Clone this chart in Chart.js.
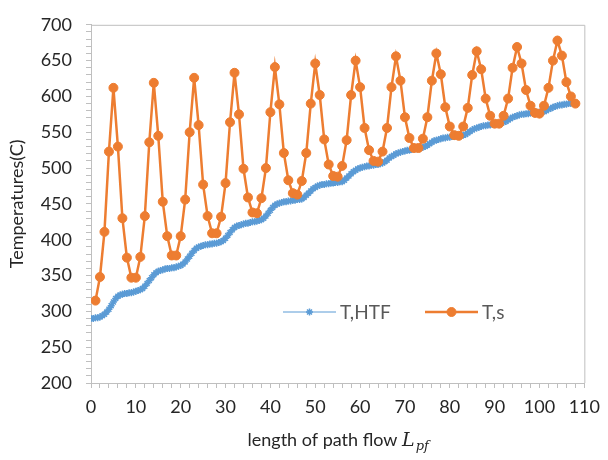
<!DOCTYPE html>
<html>
<head>
<meta charset="utf-8">
<script src="https://cdn.jsdelivr.net/npm/chart.js@4.4.1/dist/chart.umd.min.js"></script>
<style>
  html, body { margin: 0; padding: 0; background: #fff; }
</style>
</head>
<body>
<canvas id="chart" width="608" height="460"></canvas>
<script>
// T,s : solid temperature, one reading per unit of path length (1..108)
const tsTemp = [
  315, 348, 411, 523, 612, 530, 430, 375, 347, 347,
  376, 433, 536, 619, 545, 453, 405, 378, 378, 405,
  456, 550, 626, 560, 477, 433, 409, 409, 432, 479,
  564, 633, 575, 499, 459, 438, 437, 458, 500, 578,
  641, 589, 521, 483, 465, 463, 482, 521, 590, 646,
  602, 540, 505, 489, 488, 503, 539, 602, 650, 613,
  556, 525, 510, 509, 523, 556, 613, 656, 622, 571,
  542, 528, 528, 541, 571, 622, 660, 631, 585, 558,
  546, 545, 558, 584, 630, 663, 638, 597, 573, 562,
  562, 573, 597, 640, 669, 646, 609, 587, 577, 576,
  587, 612, 650, 678, 657, 620, 600, 590
];
const tsLength = tsTemp.map((_, i) => i + 1);

// T,HTF : heat transfer fluid temperature, read every half unit (0..108)
const htfTemp = [
  290, 290, 291, 291, 292, 294, 296, 299, 303, 308,
  313, 318, 321, 323, 324, 325, 325, 326, 326, 327,
  328, 329, 330, 332, 335, 339, 343, 347, 351, 354,
  356, 357, 358, 359, 360, 360, 361, 361, 362, 363,
  364, 366, 369, 373, 377, 381, 385, 388, 390, 391,
  392, 393, 393, 394, 394, 395, 395, 396, 397, 399,
  402, 406, 410, 414, 417, 419, 420, 421, 422, 423,
  423, 424, 425, 425, 426, 427, 428, 430, 433, 437,
  441, 445, 448, 450, 451, 452, 453, 453, 454, 454,
  455, 455, 456, 456, 457, 459, 462, 465, 468, 471,
  473, 475, 476, 477, 477, 478, 478, 479, 479, 480,
  480, 481, 481, 483, 486, 489, 492, 495, 497, 499,
  500, 501, 502, 503, 503, 504, 504, 505, 505, 506,
  507, 509, 511, 514, 516, 518, 520, 521, 522, 523,
  524, 525, 525, 526, 527, 527, 528, 528, 529, 530,
  532, 534, 536, 538, 539, 540, 541, 542, 542, 543,
  543, 544, 544, 545, 545, 546, 546, 547, 549, 551,
  553, 555, 556, 557, 558, 559, 559, 560, 560, 561,
  561, 562, 562, 563, 564, 565, 567, 569, 571, 572,
  573, 574, 575, 575, 576, 576, 577, 577, 578, 578,
  578, 579, 579, 580, 582, 583, 585, 586, 587, 588,
  588, 589, 589, 590, 590, 591, 591
];
const htfLength = htfTemp.map((_, i) => i * 0.5);

const seriesNames = ['T,HTF', 'T,s'];
const blue = '#5B9BD5';
const orange = '#ED7D31';
const axisGray = '#BFBFBF';
const textColor = '#262626';
const fontFamily = 'Lato, "Open Sans", sans-serif';

// grey frame on the top and right of the plot
const framePlugin = {
  id: 'frame',
  afterDraw(chart) {
    const { ctx, chartArea: a } = chart;
    ctx.save();
    ctx.strokeStyle = axisGray;
    ctx.lineWidth = 1;
    ctx.beginPath();
    ctx.moveTo(a.left, a.top + 0.5);
    ctx.lineTo(a.right + 0.5, a.top + 0.5);
    ctx.lineTo(a.right + 0.5, a.bottom);
    ctx.stroke();
    ctx.restore();
  }
};

// legend sits inside the plot, below the curves
const innerLegend = {
  id: 'innerLegend',
  afterDraw(chart) {
    const ctx = chart.ctx;
    const y = 312;
    const items = [
      { x: 283, ds: chart.data.datasets[0] },
      { x: 425, ds: chart.data.datasets[1] }
    ];
    ctx.save();
    items.forEach(it => {
      const ds = it.ds;
      ctx.strokeStyle = ds.borderColor;
      ctx.lineWidth = ds.borderWidth;
      ctx.beginPath();
      ctx.moveTo(it.x, y);
      ctx.lineTo(it.x + 53, y);
      ctx.stroke();
      ctx.fillStyle = ds.pointBackgroundColor;
      ctx.strokeStyle = ds.pointBorderColor;
      ctx.lineWidth = ds.pointBorderWidth;
      Chart.helpers.drawPoint(ctx, {
        pointStyle: ds.pointStyle, radius: ds.pointRadius, rotation: 0,
        borderWidth: ds.pointBorderWidth
      }, it.x + 26.5, y);
      ctx.fillStyle = '#595959';
      ctx.font = '19px ' + fontFamily;
      ctx.textBaseline = 'middle';
      ctx.textAlign = 'left';
      ctx.fillText(ds.label, it.x + 57, y + 1);
    });
    ctx.restore();
  }
};

// x axis title with the math-italic L_pf
const xTitle = {
  id: 'xTitle',
  afterDraw(chart) {
    const { ctx, chartArea: a } = chart;
    const base = 446;
    const part1 = 'length of path flow ';
    ctx.save();
    ctx.fillStyle = textColor;
    ctx.textBaseline = 'alphabetic';
    ctx.textAlign = 'left';
    ctx.font = '18px ' + fontFamily;
    const w1 = ctx.measureText(part1).width;
    ctx.font = 'italic 19px "DejaVu Serif", serif';
    const w2 = ctx.measureText('L').width;
    ctx.font = 'italic 13px "DejaVu Serif", serif';
    const w3 = ctx.measureText('pf').width;
    let x = (a.left + a.right) / 2 - (w1 + w2 + w3) / 2;
    ctx.font = '18px ' + fontFamily;
    ctx.fillText(part1, x, base);
    x += w1;
    ctx.font = 'italic 19px "DejaVu Serif", serif';
    ctx.fillText('L', x, base);
    x += w2 + 1;
    ctx.font = 'italic 13px "DejaVu Serif", serif';
    ctx.fillText('pf', x, base + 4);
    ctx.restore();
  }
};

const ctx = document.getElementById('chart').getContext('2d');
const tempChart = new Chart(ctx, {
  type: 'line',
  data: {
    datasets: [
      {
        label: seriesNames[0],
        data: htfTemp.map((v, i) => ({ x: htfLength[i], y: v })),
        borderColor: blue,
        backgroundColor: blue,
        borderWidth: 1,
        pointStyle: 'star',
        pointRadius: 3.5,
        pointBorderWidth: 1.5,
        pointBackgroundColor: blue,
        pointBorderColor: blue,
        tension: 0,
        order: 1
      },
      {
        label: seriesNames[1],
        data: tsTemp.map((v, i) => ({ x: tsLength[i], y: v })),
        borderColor: orange,
        backgroundColor: orange,
        borderWidth: 2.5,
        pointStyle: 'circle',
        pointRadius: 4.5,
        pointBorderWidth: 1,
        pointBackgroundColor: orange,
        pointBorderColor: orange,
        tension: 0,
        order: 0
      }
    ]
  },
  options: {
    responsive: false,
    animation: false,
    layout: { padding: { top: 17, right: 17, left: 0, bottom: 0 } },
    plugins: {
      legend: { display: false },
      tooltip: { enabled: false }
    },
    scales: {
      x: {
        type: 'linear',
        min: 0,
        max: 110,
        afterFit(scale) { scale.height = 77; },
        ticks: {
          stepSize: 2,
          autoSkip: false,
          maxRotation: 0,
          padding: 8,
          color: textColor,
          font: { family: fontFamily, size: 18 },
          callback: v => (v % 10 === 0 ? v : '')
        },
        grid: { display: true, drawOnChartArea: false, tickLength: 5, color: axisGray },
        border: { display: true, color: axisGray, width: 1 }
      },
      y: {
        min: 200,
        max: 700,
        afterFit(scale) { scale.width = 91; },
        ticks: {
          stepSize: 10,
          autoSkip: false,
          padding: 14,
          color: textColor,
          font: { family: fontFamily, size: 18 },
          callback: v => (v % 50 === 0 ? v : '')
        },
        grid: { display: true, drawOnChartArea: false, tickLength: 5, color: axisGray },
        border: { display: true, color: axisGray, width: 1 },
        title: {
          display: true,
          text: 'Temperatures(C)',
          color: textColor,
          font: { family: fontFamily, size: 18 },
          padding: { top: 6, bottom: 0 }
        }
      }
    }
  },
  plugins: [framePlugin, innerLegend, xTitle]
});
</script>
</body>
</html>
